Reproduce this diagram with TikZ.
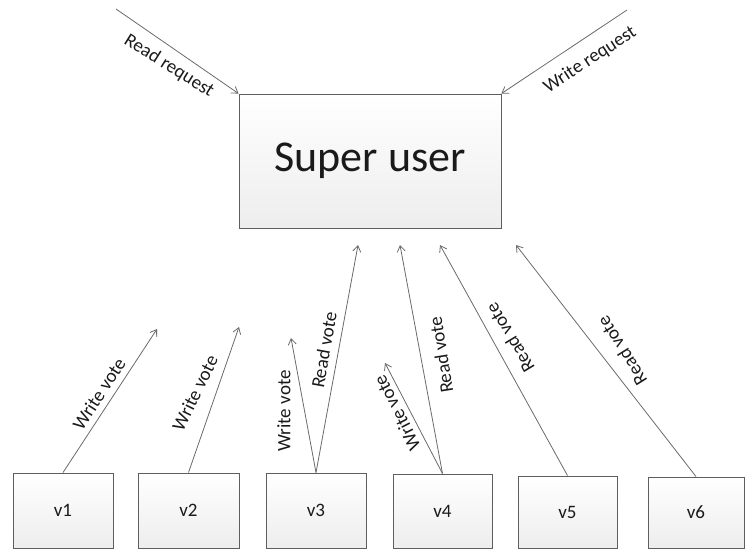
\documentclass[tikz,border=0pt]{standalone}
\usepackage{fontspec}
\setmainfont{Carlito}
\usetikzlibrary{arrows.meta,shadows}
\definecolor{linegray}{HTML}{6A6A6A}
\definecolor{boxborder}{HTML}{5E5E5E}
\definecolor{txt}{HTML}{1A1A1A}
\tikzset{
  box/.style={draw=boxborder, line width=0.9pt, top color=white, bottom color=black!7,
    drop shadow={shadow xshift=1.2pt, shadow yshift=-1.2pt, fill=black!18, opacity=0.5},
    text=txt, inner sep=0pt, font=\fontsize{19}{22}\selectfont},
  vbox/.style={box},
  conn/.style={draw=linegray, line width=0.8pt, -{Straight Barb[length=6pt,width=8pt,line width=0.8pt]}},
  lbl/.style={text=txt, inner sep=0pt, font=\fontsize{19}{22}\selectfont}
}
\begin{document}
\begin{tikzpicture}[x=1pt,y=-1pt]
\useasboundingbox (0,0) rectangle (753,550);
% super user
\node[box, minimum width=262pt, minimum height=134pt, font=\fontsize{44}{50}\selectfont] (su) at (370,161) {Super user};
% voters
\node[vbox, minimum width=100pt, minimum height=75pt] (v1) at (63,510.5) {v1};
\node[vbox, minimum width=101pt, minimum height=75pt] (v2) at (188.5,510.5) {v2};
\node[vbox, minimum width=100pt, minimum height=75pt] (v3) at (316,510.5) {v3};
\node[vbox, minimum width=99pt, minimum height=74pt] (v4) at (442.5,511) {v4};
\node[vbox, minimum width=99pt, minimum height=72pt] (v5) at (567.5,512) {v5};
\node[vbox, minimum width=96pt, minimum height=71pt] (v6) at (696,512.5) {v6};
% free ends
\coordinate (rq) at (116,9);
\coordinate (wq) at (627,10);
\coordinate (e1) at (157,329);
\coordinate (e2) at (239,327);
\coordinate (e3w) at (291,338);
\coordinate (e3r) at (358,245);
\coordinate (e4w) at (385,363);
\coordinate (e4r) at (400,245);
\coordinate (e5) at (440,245);
\coordinate (e6) at (516,245);
% connectors
\draw[conn] (rq) -- (su.north west);
\draw[conn] (wq) -- (su.north east);
\draw[conn] (v1.north) -- (e1);
\draw[conn] (v2.north) -- (e2);
\draw[conn] (v3.north) -- (e3w);
\draw[conn] (v3.north) -- (e3r);
\draw[conn] (v4.north) -- (e4w);
\draw[conn] (v4.north) -- (e4r);
\draw[conn] (v5.north) -- (e5);
\draw[conn] (v6.north) -- (e6);
% labels
\node[lbl, rotate=-32] (lrq) at (169,66) {Read request};
\node[lbl, rotate=33] (lwq) at (590,60) {Write request};
\node[lbl, rotate=57] (l1) at (99,394) {Write vote};
\node[lbl, rotate=64] (l2) at (195,393) {Write vote};
\node[lbl, rotate=90] (l3w) at (284,411) {Write vote};
\node[lbl, rotate=80] (l3r) at (324,350) {Read vote};
\node[lbl, rotate=117] (l4w) at (397,413) {Write vote};
\node[lbl, rotate=99] (l4r) at (441,355) {Read vote};
\node[lbl, rotate=121] (l5) at (510,338) {Read vote};
\node[lbl, rotate=122] (l6) at (622,351) {Read vote};
\end{tikzpicture}
\end{document}
